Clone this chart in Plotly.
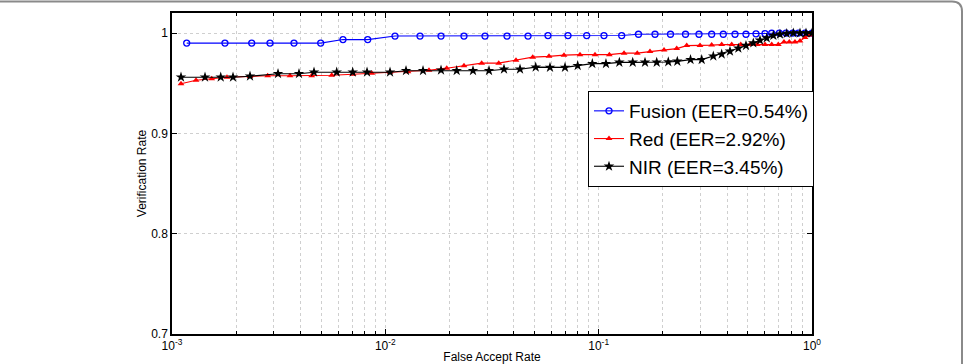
import plotly.graph_objects as go

# ---- data ----
fusion_far = [0.001172, 0.001771, 0.002364, 0.002880, 0.003731, 0.004977, 0.006331, 0.008268,
              0.01110, 0.01454, 0.01824, 0.02337, 0.02932, 0.03718, 0.04665, 0.05787, 0.07182,
              0.08788, 0.1059, 0.1282, 0.1537, 0.1837, 0.2171, 0.2553, 0.2953, 0.3386, 0.3838,
              0.4356, 0.4904, 0.5464, 0.6021, 0.6474, 0.7028, 0.7551, 0.8118, 0.8627, 0.927, 1.0]
fusion_vr = [0.990, 0.990, 0.990, 0.990, 0.990, 0.990, 0.9935, 0.9935,
             0.997, 0.997, 0.997, 0.997, 0.997, 0.997, 0.997, 0.9975, 0.9975,
             0.9975, 0.9975, 0.9975, 0.9988, 0.9988, 0.9988, 0.9988, 0.9988, 0.9988, 0.9988,
             0.9988, 0.9988, 0.9992, 0.9995, 0.9998, 1.0, 1.0, 1.0, 1.0, 1.0, 1.0]

red_far = [0.001102, 0.001296, 0.001535, 0.001810, 0.002321, 0.002809, 0.003573, 0.004516,
           0.005605, 0.007054, 0.008635, 0.01052, 0.01277, 0.01602, 0.01940, 0.02337, 0.02829,
           0.03400, 0.04097, 0.04908, 0.05850, 0.06878, 0.08175, 0.09612, 0.1122, 0.1315,
           0.1517, 0.1740, 0.2025, 0.2322, 0.2587, 0.2985, 0.3386, 0.3773, 0.4204, 0.4634,
           0.5124, 0.5542, 0.6021, 0.6474, 0.6950, 0.7390, 0.7826, 0.8323, 0.8785, 0.927,
           0.9786, 1.0]
red_vr = [0.9495, 0.953, 0.9545, 0.956, 0.9568, 0.9575, 0.9575, 0.9575,
          0.958, 0.959, 0.960, 0.961, 0.9615, 0.963, 0.965, 0.9675, 0.970,
          0.970, 0.973, 0.976, 0.9768, 0.978, 0.9785, 0.9785, 0.9785, 0.980,
          0.980, 0.9815, 0.983, 0.9845, 0.9875, 0.9875, 0.988, 0.9885, 0.9885, 0.9885,
          0.9885, 0.9885, 0.9885, 0.9885, 0.9885, 0.991, 0.991, 0.991, 0.992, 0.9955,
          0.998, 1.0]

nir_far = [0.001102, 0.001428, 0.001692, 0.001932, 0.002321, 0.003140, 0.003938, 0.004631,
           0.005916, 0.007031, 0.008208, 0.01052, 0.01250, 0.01502, 0.01824, 0.02160, 0.02576,
           0.03062, 0.03600, 0.04279, 0.05068, 0.05914, 0.06953, 0.07974, 0.09337, 0.1082,
           0.1250, 0.1444, 0.1649, 0.1871, 0.2120, 0.2337, 0.2695, 0.3041, 0.3446, 0.3773,
           0.4126, 0.4515, 0.4904, 0.5307, 0.5705, 0.6135, 0.6588, 0.7079, 0.7612, 0.8175,
           0.8785, 0.9373, 1.0]
nir_vr = [0.956, 0.956, 0.956, 0.956, 0.957, 0.9595, 0.9595, 0.961,
          0.961, 0.961, 0.961, 0.961, 0.9625, 0.9625, 0.963, 0.9625, 0.9625,
          0.9625, 0.964, 0.964, 0.966, 0.9658, 0.9658, 0.9675, 0.9695, 0.9695,
          0.9708, 0.9708, 0.9708, 0.9708, 0.9712, 0.9718, 0.9735, 0.9735, 0.977, 0.979,
          0.9818, 0.9848, 0.9875, 0.990, 0.9928, 0.995, 0.9975, 0.9988, 0.9995, 1.0,
          1.0, 1.0, 1.0]

series_names = ["Fusion (EER=0.54%)", "Red (EER=2.92%)", "NIR (EER=3.45%)"]

x_decades = [0.001, 0.01, 0.1, 1.0]
x_decade_labels = ["10<sup>-3</sup>", "10<sup>-2</sup>", "10<sup>-1</sup>", "10<sup>0</sup>"]
y_ticks = [0.7, 0.8, 0.9, 1.0]
y_tick_labels = ["0.7", "0.8", "0.9", "1"]

# minor grid positions (2..9 of each decade)
minor_vals = [d * m for d in x_decades[:-1] for m in range(2, 10)]

FONT = "Liberation Sans, Arial, Helvetica, sans-serif"
GRID = "#cfcfcf"

fig = go.Figure()
fig.add_trace(go.Scatter(
    x=fusion_far, y=fusion_vr, name=series_names[0], mode="lines+markers",
    line=dict(color="#0000ff", width=1.1),
    marker=dict(symbol="circle-open", size=6, color="#0000ff", line=dict(width=1.3, color="#0000ff"))))
fig.add_trace(go.Scatter(
    x=red_far, y=red_vr, name=series_names[1], mode="lines+markers",
    line=dict(color="#ff0000", width=1.1),
    marker=dict(symbol="triangle-up", size=6, color="#ff0000")))
fig.add_trace(go.Scatter(
    x=nir_far, y=nir_vr, name=series_names[2], mode="lines+markers",
    line=dict(color="#000000", width=1.1),
    marker=dict(symbol="star", size=8, color="#000000")))

L, R, T, B = 172, 158, 13, 30
W, H = 970, 364
pw, ph = W - L - R, H - T - B

def px(xp):
    return (xp - L) / pw

def py(yp):
    return (H - B - yp) / ph

fig.update_layout(
    width=W, height=H,
    margin=dict(l=L, r=R, t=T, b=B, autoexpand=False),
    paper_bgcolor="white", plot_bgcolor="white",
    font=dict(family=FONT, size=12, color="black"),
    showlegend=True,
    legend=dict(
        x=px(588), y=py(91), xanchor="left", yanchor="top",
        bgcolor="white", bordercolor="black", borderwidth=1,
        font=dict(family=FONT, size=19, color="black"),
        itemwidth=30, tracegroupgap=0,
    ),
    xaxis=dict(
        type="log", range=[-3, 0], automargin=False,
        tickmode="array", tickvals=x_decades, ticktext=x_decade_labels,
        ticks="inside", ticklen=5, tickcolor="black", tickwidth=1,
        showgrid=True, gridcolor=GRID, griddash="dot", gridwidth=1,
        minor=dict(tickvals=minor_vals, ticks="inside", ticklen=3, tickcolor="black",
                   showgrid=True, gridcolor=GRID, griddash="dot", gridwidth=1),
        showline=True, linecolor="black", linewidth=1.5, mirror="ticks",
        zeroline=False,
        tickfont=dict(family=FONT, size=12),
        title=dict(text="False Accept Rate", font=dict(family=FONT, size=12), standoff=0),
    ),
    yaxis=dict(
        range=[0.7, 1.02], automargin=False,
        tickmode="array", tickvals=y_ticks, ticktext=y_tick_labels,
        ticks="inside", ticklen=5, tickcolor="black", tickwidth=1,
        showgrid=True, gridcolor=GRID, griddash="dot", gridwidth=1,
        showline=True, linecolor="black", linewidth=1.5, mirror="ticks",
        zeroline=False,
        tickfont=dict(family=FONT, size=12),
        title=dict(text="Verification Rate", font=dict(family=FONT, size=12), standoff=2),
    ),
)

# outer gray frame (top and right edges with a rounded corner)
x0, x1 = px(-5), px(962)
ytop, ybot = py(1.5), py(370)
rx = 10 / pw
ry = 10 / ph
path = (f"M {x0},{ytop} L {x1 - rx},{ytop} Q {x1},{ytop} {x1},{ytop - ry} "
        f"L {x1},{ybot}")
fig.add_shape(type="path", path=path, xref="paper", yref="paper",
              line=dict(color="#8a8a8a", width=2), layer="above")

fig.write_html("out.html")
